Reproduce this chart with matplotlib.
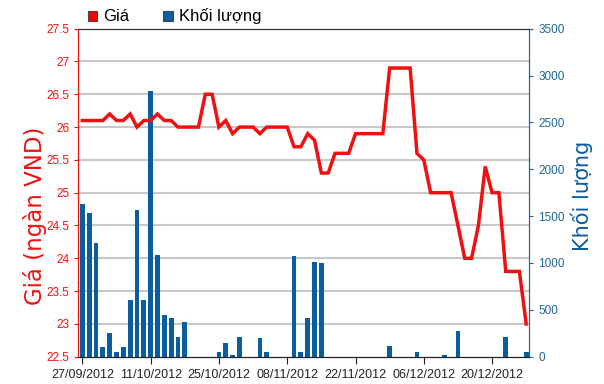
import matplotlib
matplotlib.use("Agg")
import matplotlib.pyplot as plt
from matplotlib.patches import Rectangle

plt.rcParams['font.family'] = ['Liberation Sans Narrow', 'Liberation Sans', 'DejaVu Sans']

# Dữ liệu: giá (ngàn VND) và khối lượng theo từng phiên
gia = [26.1, 26.1, 26.1, 26.1, 26.2, 26.1, 26.1, 26.2, 26.0, 26.1,
       26.1, 26.2, 26.1, 26.1, 26.0, 26.0, 26.0, 26.0, 26.5, 26.5,
       26.0, 26.1, 25.9, 26.0, 26.0, 26.0, 25.9, 26.0, 26.0, 26.0,
       26.0, 25.7, 25.7, 25.9, 25.8, 25.3, 25.3, 25.6, 25.6, 25.6,
       25.9, 25.9, 25.9, 25.9, 25.9, 26.9, 26.9, 26.9, 26.9, 25.6,
       25.5, 25.0, 25.0, 25.0, 25.0, 24.5, 24.0, 24.0, 24.5, 25.4,
       25.0, 25.0, 23.8, 23.8, 23.8, 23.0]

khoi_luong = [1630, 1530, 1210, 100, 250, 50, 100, 600, 1570, 600,
              2840, 1080, 450, 410, 210, 370, 0, 0, 0, 0,
              50, 150, 15, 210, 0, 0, 200, 50, 0, 0,
              0, 1070, 50, 410, 1010, 1000, 0, 0, 0, 0,
              0, 0, 0, 0, 0, 110, 0, 0, 0, 50,
              0, 0, 0, 20, 0, 270, 0, 0, 0, 0,
              0, 0, 210, 0, 0, 50]

nhan_ngay = ['27/09/2012', '11/10/2012', '25/10/2012', '08/11/2012',
             '22/11/2012', '06/12/2012', '20/12/2012']

red = '#f01010'
blue = '#0a5e9e'
blue_axis = '#1f6690'

fig = plt.figure(figsize=(6.04, 3.84), dpi=100)
ax = fig.add_axes([0.1296, 0.0711, 0.7467, 0.8542])
ax2 = ax.twinx()

x = list(range(len(gia)))

# cột khối lượng (trục phải) nằm dưới đường giá
ax2.bar(x, khoi_luong, width=0.7, color=blue, zorder=2)
ax2.set_ylim(0, 3500)
ax2.set_yticks(range(0, 3501, 500))
ax2.tick_params(axis='y', colors=blue_axis, labelsize=8.5, length=3)
ax2.set_ylabel('Khối lượng', color=blue, fontsize=15, family='DejaVu Sans')
ax2.yaxis.set_label_coords(1.092, 0.49)

# đường giá (trục trái) -> vẽ trên cùng
ax.set_zorder(ax2.get_zorder() + 1)
ax.patch.set_visible(False)
ax.plot(x, gia, color=red, lw=2.5, zorder=5, solid_joinstyle='miter')
ax.set_ylim(22.5, 27.5)
ax.set_yticks([22.5 + 0.5 * i for i in range(11)])
ax.set_yticklabels(['22.5', '23', '23.5', '24', '24.5', '25', '25.5',
                    '26', '26.5', '27', '27.5'])
ax.tick_params(axis='y', colors=red, labelsize=8.5, length=3)
ax.set_ylabel('Giá (ngàn VND)', color=red, fontsize=16.5, family='DejaVu Sans')
ax.yaxis.set_label_coords(-0.069, 0.43)
ax.set_xlim(-0.6, 65.45)
ax.set_xticks(range(0, 61, 10))
ax.set_xticklabels(nhan_ngay)
ax.tick_params(axis='x', labelsize=9, length=5, pad=4, colors='#222222')

# lưới ngang màu xám (vẽ trên ax2 để nằm dưới cột)
for v in [23 + 0.5 * i for i in range(9)]:
    y2 = (v - 22.5) / 5 * 3500
    ax2.axhline(y2, color='#c8c8c8', lw=1.5, zorder=1)

for a in (ax, ax2):
    a.spines['top'].set_color('#333333')
    a.spines['bottom'].set_color('#222222')
ax.spines['left'].set_color(red)
ax2.spines['left'].set_color(red)
ax.spines['right'].set_color(blue_axis)
ax2.spines['right'].set_color(blue_axis)

# chú thích
fig.patches.append(Rectangle((0.145, 0.945), 0.016, 0.026, transform=fig.transFigure,
                             facecolor='#ff0000', edgecolor='#444444', lw=0.8))
fig.text(0.17, 0.958, 'Giá', fontsize=12, va='center', ha='left')
fig.patches.append(Rectangle((0.27, 0.945), 0.016, 0.026, transform=fig.transFigure,
                             facecolor=blue, edgecolor='#444444', lw=0.8))
fig.text(0.297, 0.958, 'Khối lượng', fontsize=12, va='center', ha='left')

fig.savefig('out.png', dpi=100)
